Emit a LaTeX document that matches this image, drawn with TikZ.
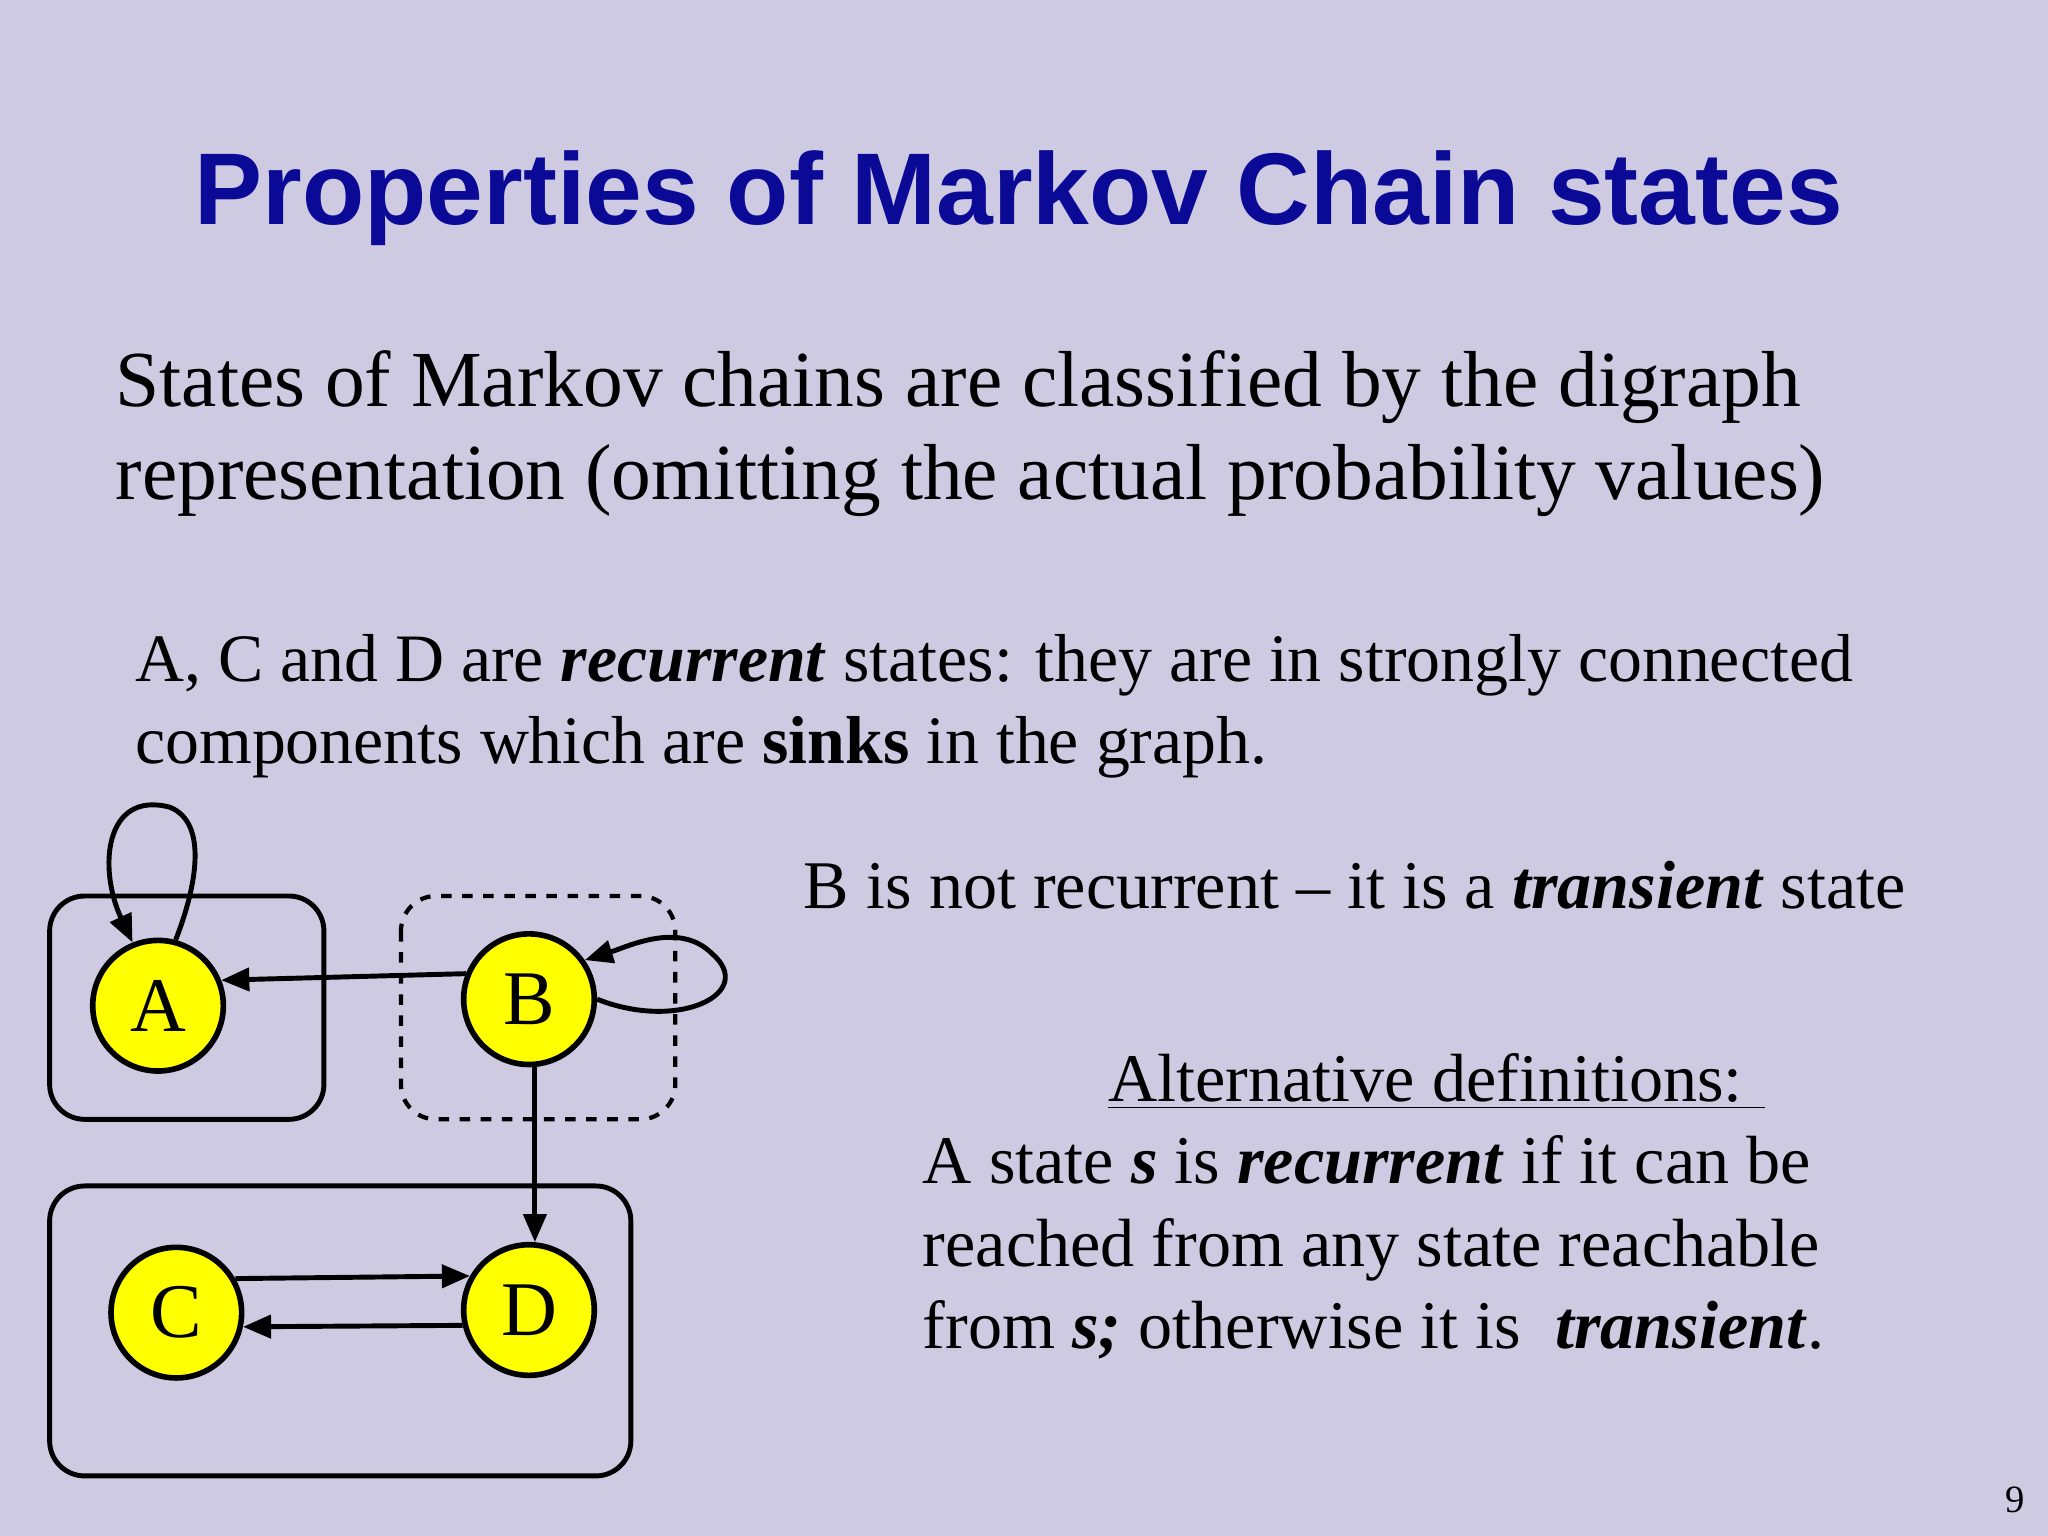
\documentclass[tikz,border=0pt]{standalone}
\usepackage{fontspec}
\setmainfont{Liberation Serif}
\newfontfamily\titlefont{Liberation Sans}
\usetikzlibrary{arrows.meta}
\definecolor{bg}{RGB}{206,202,226}
\definecolor{ttl}{RGB}{10,10,150}
\definecolor{stateyel}{RGB}{255,255,0}
\begin{document}
\begin{tikzpicture}[x=0.013061cm,y=-0.013061cm,
  state/.style={circle,draw=black,line width=1.6pt,fill=stateyel,minimum size=100*0.013061cm,inner sep=0pt,font=\fontsize{22}{22}\selectfont},
  comp/.style={draw=black,line width=1.4pt,rounded corners=0.35cm},
  arr/.style={-{Triangle[length=8pt,width=6.5pt]},line width=1.4pt},
  txt/.style={anchor=west,inner sep=0pt}]
\fill[bg] (0,0) rectangle (1568,1176);
\useasboundingbox (0,0) rectangle (1568,1176);
\node[anchor=center,text=ttl,font=\titlefont\bfseries\fontsize{29}{30}\selectfont] (title) at (780,152) {Properties of Markov Chain states};
\node[txt,font=\fontsize{22.6}{26.6}\selectfont,align=left] (p1) at (88,332) {States of Markov chains are classified by the digraph\\representation (omitting the actual probability values)};
\node[txt,font=\fontsize{19.3}{23.3}\selectfont,align=left] (p2) at (103,541) {A, C and D are \textbf{\textit{recurrent}} states: they are in strongly connected\\components which are \textbf{sinks} in the graph.};
\node[txt,font=\fontsize{19.4}{21}\selectfont] (p3) at (615,678) {B is not recurrent -- it is a \textbf{\textit{transient}} state};
\node[txt,font=\fontsize{19.4}{21}\selectfont] (alt) at (848,828) {\underline{Alternative definitions: }};
\node[txt,font=\fontsize{19.4}{23.5}\selectfont,align=left] (p4) at (706,955) {A state \textbf{\textit{s}} is \textbf{\textit{recurrent}} if it can be\\reached from any state reachable\\from \textbf{\textit{s;}} otherwise it is \ \textbf{\textit{transient}}.};
\node[font=\fontsize{11}{12}\selectfont] (pg) at (1543,1148) {9};
\draw[comp] (38,686) rectangle (248,857);
\draw[comp,dashed,line width=1.2pt] (307,686) rectangle (517,857);
\draw[comp] (38,908) rectangle (483,1130);
\node[state] (A) at (121,770) {A};
\node[state] (B) at (405,765) {B};
\node[state] (C) at (135,1005) {C};
\node[state] (D) at (405,1003) {D};
\draw[arr] (B.158) -- (A.22);
\draw[arr] (B.275) -- (D.85);
\draw[arr] (C.30) -- (D.150);
\draw[arr] (D.193) -- (C.-12);
\draw[arr] (B.0) .. controls (520,790) and (580,760) .. (545,730) .. controls (520,705) and (480,725) .. (B.35);
\draw[arr] (A.75) .. controls (150,680) and (160,630) .. (130,618) .. controls (80,605) and (75,665) .. (A.112);
\end{tikzpicture}
\end{document}
